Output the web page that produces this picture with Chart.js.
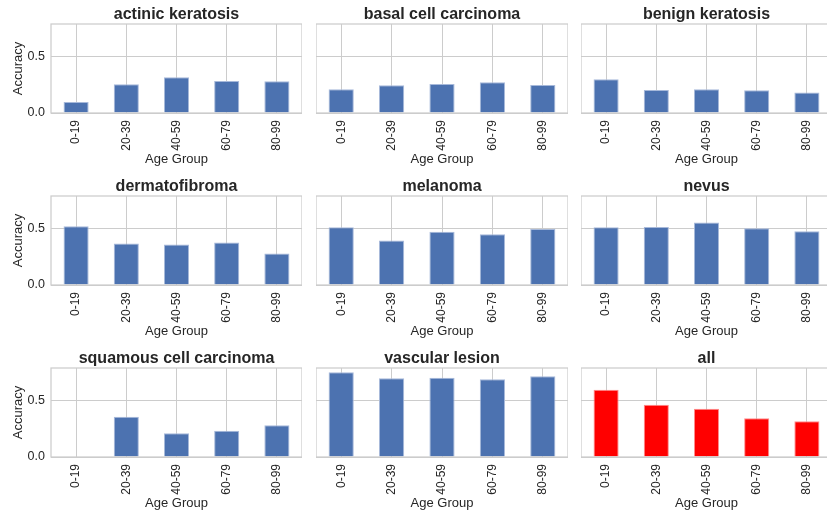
<!DOCTYPE html>
<html>
<head>
<meta charset="utf-8">
<script src="https://cdn.jsdelivr.net/npm/chart.js@4.4.1/dist/chart.umd.min.js"></script>
<style>
  html, body { margin: 0; padding: 0; background: #fff; overflow: hidden; }
  body { width: 827px; height: 515px; position: relative; }
  canvas { position: absolute; }
</style>
</head>
<body>
<script>
// data
const ageGroups = ["0-19", "20-39", "40-59", "60-79", "80-99"];
const actinicKeratosis = [0.098, 0.256, 0.318, 0.286, 0.283];
const basalCellCarcinoma = [0.211, 0.247, 0.259, 0.274, 0.25];
const benignKeratosis = [0.3, 0.205, 0.211, 0.202, 0.182];
const dermatofibroma = [0.524, 0.37, 0.361, 0.38, 0.28];
const melanoma = [0.515, 0.398, 0.476, 0.452, 0.5];
const nevus = [0.515, 0.518, 0.557, 0.506, 0.479];
const squamousCellCarcinoma = [0.004, 0.358, 0.211, 0.235, 0.283];
const vascularLesion = [0.756, 0.702, 0.708, 0.693, 0.72];
const allClasses = [0.599, 0.467, 0.431, 0.346, 0.319];
const yTicks = [0, 0.5];
const yMax = 0.794;

const panels = [
  ["actinic keratosis", actinicKeratosis],
  ["basal cell carcinoma", basalCellCarcinoma],
  ["benign keratosis", benignKeratosis],
  ["dermatofibroma", dermatofibroma],
  ["melanoma", melanoma],
  ["nevus", nevus],
  ["squamous cell carcinoma", squamousCellCarcinoma],
  ["vascular lesion", vascularLesion],
  ["all", allClasses],
];

const FONT = "'Liberation Sans', Arial, sans-serif";
const TEXT = "#262626";
const GRID = "#cccccc";

const colLeft = [0, 316, 581];
const colWidth = [302, 252, 251];
const yAxisWidth = [51, 0, 0];
const rowTop = [0, 172, 344];
const cellHeight = 167;

// matplotlib-style spines on all four sides
const framePlugin = {
  id: "frame",
  afterDatasetsDraw(chart) {
    const { ctx, chartArea: a } = chart;
    ctx.save();
    ctx.strokeStyle = GRID;
    ctx.lineWidth = 1.25;
    ctx.strokeRect(a.left, a.top, a.right - a.left, a.bottom - a.top);
    ctx.restore();
  },
};

panels.forEach(([title, values], i) => {
  const col = i % 3;
  const row = Math.floor(i / 3);
  const isAll = title === "all";

  const canvas = document.createElement("canvas");
  canvas.width = colWidth[col];
  canvas.height = cellHeight;
  canvas.style.left = colLeft[col] + "px";
  canvas.style.top = rowTop[row] + "px";
  document.body.appendChild(canvas);

  new Chart(canvas.getContext("2d"), {
    type: "bar",
    data: {
      labels: ageGroups,
      datasets: [
        {
          data: values,
          backgroundColor: isAll ? "#ff0000" : "#4c72b0",
          borderColor: isAll ? "#ff8c8c" : "#a7b9da",
          borderWidth: 1,
          barPercentage: 0.5,
          categoryPercentage: 1,
        },
      ],
    },
    options: {
      responsive: false,
      animation: false,
      layout: { padding: 0 },
      plugins: {
        legend: { display: false },
        tooltip: { enabled: false },
        title: {
          display: true,
          text: title,
          fullSize: false,
          color: TEXT,
          font: { family: FONT, size: 16, weight: "bold", lineHeight: 1 },
          padding: { top: 7, bottom: 1 },
        },
      },
      scales: {
        x: {
          offset: true,
          grid: { offset: false, color: GRID, lineWidth: 1, drawTicks: false },
          border: { display: false },
          ticks: {
            color: TEXT,
            font: { family: FONT, size: 12 },
            minRotation: 90,
            maxRotation: 90,
            padding: 7,
          },
          title: {
            display: true,
            text: "Age Group",
            color: TEXT,
            font: { family: FONT, size: 13 },
            padding: 0,
          },
          afterFit: (s) => { s.height = 54; },
        },
        y: {
          min: 0,
          max: yMax,
          grid: { color: GRID, lineWidth: 1, drawTicks: false },
          border: { display: false },
          afterBuildTicks: (s) => { s.ticks = yTicks.map((v) => ({ value: v })); },
          ticks: {
            display: col === 0,
            color: TEXT,
            font: { family: FONT, size: 12.5 },
            padding: 6,
            callback: (v) => Number(v).toFixed(1),
          },
          title: {
            display: col === 0,
            text: "Accuracy",
            color: TEXT,
            font: { family: FONT, size: 13 },
            padding: { top: 11, bottom: 0 },
          },
          afterFit: (s) => { s.width = yAxisWidth[col]; },
        },
      },
    },
    plugins: [framePlugin],
  });
});
</script>
</body>
</html>
